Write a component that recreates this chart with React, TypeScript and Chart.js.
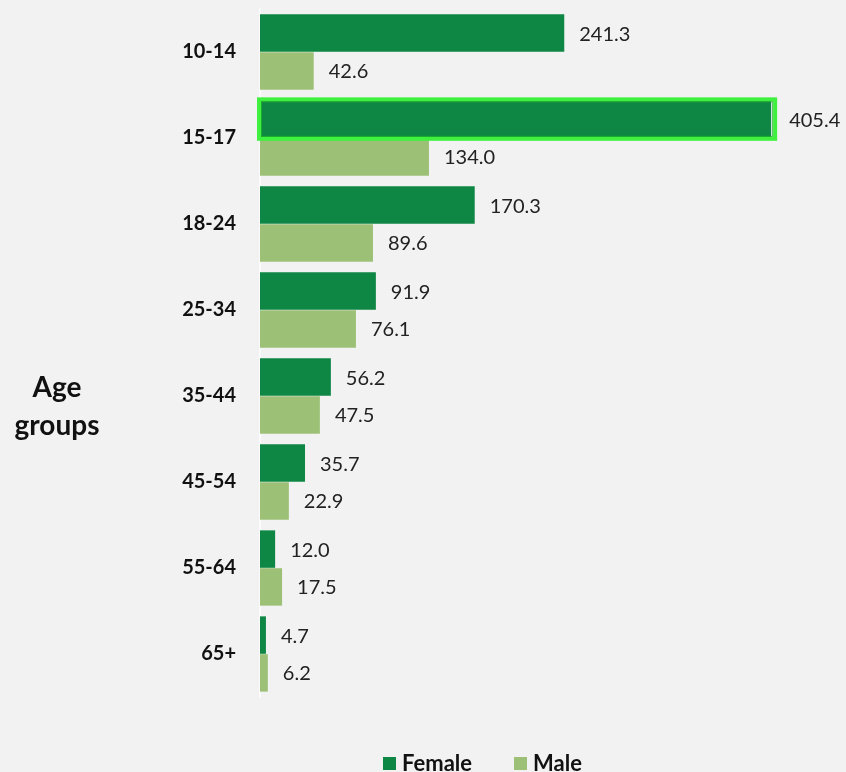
import React, { useEffect, useRef } from "react";
import { Chart, registerables } from "chart.js";

Chart.register(...registerables);

const categories = ["10-14", "15-17", "18-24", "25-34", "35-44", "45-54", "55-64", "65+"];
const femaleValues = [241.3, 405.4, 170.3, 91.9, 56.2, 35.7, 12.0, 4.7];
const maleValues = [42.6, 134.0, 89.6, 76.1, 47.5, 22.9, 17.5, 6.2];
const seriesNames = ["Female", "Male"];
const axisTitleLines = ["Age", "groups"];
const highlightIndex = 1;

const FEMALE = "#0e8744";
const MALE = "#9cc176";
const FONT = "Lato, 'Open Sans', sans-serif";

export default function App() {
  const ref = useRef<HTMLCanvasElement | null>(null);

  useEffect(() => {
    document.body.style.margin = "0";
    document.body.style.background = "#f2f2f2";
    const canvas = ref.current;
    if (!canvas) return;

    const bgPlugin = {
      id: "bg",
      beforeDraw(chart: any) {
        const { ctx, width, height } = chart;
        ctx.save();
        ctx.fillStyle = "#f2f2f2";
        ctx.fillRect(0, 0, width, height);
        ctx.restore();
      },
    };

    const labelsPlugin = {
      id: "valueLabels",
      afterDatasetsDraw(chart: any) {
        const { ctx } = chart;
        ctx.save();
        ctx.font = `20px ${FONT}`;
        ctx.fillStyle = "#222";
        ctx.textBaseline = "middle";
        ctx.textAlign = "left";
        chart.data.datasets.forEach((ds: any, di: number) => {
          const meta = chart.getDatasetMeta(di);
          meta.data.forEach((el: any, i: number) => {
            const off = di === 0 && i === highlightIndex ? 18 : 15;
            ctx.fillText(Number(ds.data[i]).toFixed(1), el.x + off, el.y + 1);
          });
        });
        // highlight outline
        const el: any = chart.getDatasetMeta(0).data[highlightIndex];
        if (el) {
          const h = el.height;
          ctx.strokeStyle = "#3ff03f";
          ctx.lineWidth = 4;
          ctx.strokeRect(el.base - 1, el.y - h / 2 - 1, el.x - el.base + 5, h + 2);
          ctx.strokeStyle = "rgba(30,180,40,0.8)";
          ctx.lineWidth = 1;
          ctx.strokeRect(el.base + 1.5, el.y - h / 2 + 1.5, el.x - el.base, h - 3);
        }
        // axis title
        ctx.font = `bold 28px ${FONT}`;
        ctx.fillStyle = "#111";
        ctx.textAlign = "center";
        ctx.fillText(axisTitleLines[0], 57, 388);
        ctx.fillText(axisTitleLines[1], 57, 426);
        // legend
        ctx.font = `bold 22px ${FONT}`;
        ctx.textAlign = "left";
        const items = [
          { name: seriesNames[0], color: FEMALE, x: 383 },
          { name: seriesNames[1], color: MALE, x: 514 },
        ];
        items.forEach((it) => {
          ctx.fillStyle = it.color;
          ctx.fillRect(it.x, 757, 13, 13);
          ctx.fillStyle = "#111";
          ctx.fillText(it.name, it.x + 19, 764);
        });
        ctx.restore();
      },
    };

    const chart = new Chart(canvas, {
      type: "bar",
      data: {
        labels: categories,
        datasets: [
          {
            label: seriesNames[0],
            data: femaleValues,
            backgroundColor: FEMALE,
            borderWidth: 0,
            categoryPercentage: 0.88,
            barPercentage: 0.99,
          },
          {
            label: seriesNames[1],
            data: maleValues,
            backgroundColor: MALE,
            borderWidth: 0,
            categoryPercentage: 0.88,
            barPercentage: 0.99,
          },
        ],
      },
      options: {
        indexAxis: "y",
        responsive: true,
        maintainAspectRatio: false,
        animation: false,
        layout: { padding: { top: 9, bottom: 75, right: 6, left: 0 } },
        plugins: {
          legend: { display: false },
          tooltip: { enabled: false },
          title: { display: false },
        },
        scales: {
          x: {
            min: 0,
            max: 460,
            display: false,
            grid: { display: false },
          },
          y: {
            grid: { display: false, drawTicks: false },
            border: { display: true, color: "#fbfbfb", width: 2 },
            ticks: {
              color: "#111",
              padding: 24,
              font: { family: FONT, size: 20, weight: "bold" },
            },
            afterFit(scale: any) {
              scale.width = 260;
              scale.paddingTop = 0;
              scale.paddingBottom = 0;
            },
          },
        },
      },
      plugins: [bgPlugin, labelsPlugin],
    } as any);

    return () => chart.destroy();
  }, []);

  return (
    <div style={{ width: 846, height: 772, position: "relative", background: "#f2f2f2" }}>
      <canvas ref={ref} />
    </div>
  );
}
